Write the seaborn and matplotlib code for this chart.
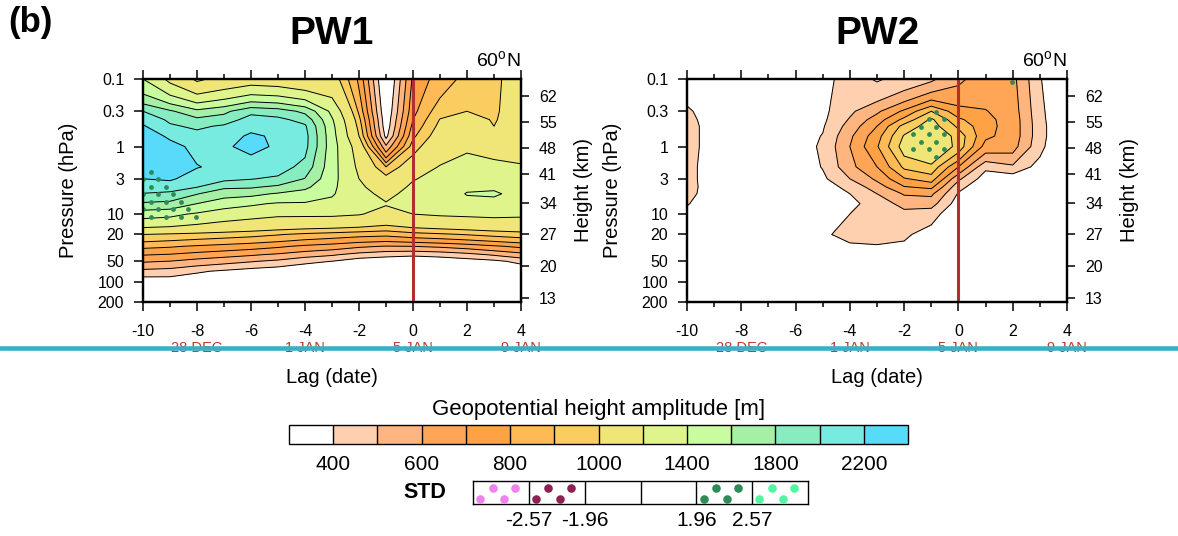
import matplotlib
matplotlib.use("Agg")
import matplotlib.pyplot as plt
import numpy as np
import seaborn as sns
from matplotlib.lines import Line2D
from matplotlib.ticker import FixedLocator, NullLocator

# ---------------- data ----------------
lags = [-10, -9, -8, -7, -6, -5, -4, -3, -2, -1, 0, 1, 2, 3, 4]
pressure = [0.1, 0.3, 0.4, 0.5, 0.7, 1, 2, 3, 4, 5, 7, 10, 20, 30, 40, 50, 70, 100, 150, 200]

# PW1 amplitude [m], one row per pressure level, columns = lags
pw1 = [
    [1400, 1150, 970, 1050, 1100, 1080, 1030, 1080, 780, 250, 720, 850, 930, 980, 1050],
    [2000, 1830, 1650, 1750, 1950, 1900, 1750, 1350, 880, 300, 770, 960, 1000, 985, 1060],
    [2150, 1960, 1850, 1900, 2080, 2050, 1930, 1420, 930, 320, 800, 1005, 1050, 990, 1070],
    [2220, 2030, 1960, 2030, 2150, 2120, 2030, 1450, 960, 330, 830, 1030, 1080, 1000, 1080],
    [2300, 2170, 2080, 2120, 2230, 2170, 2070, 1470, 1000, 370, 880, 1070, 1120, 1060, 1100],
    [2370, 2260, 2150, 2180, 2240, 2180, 2060, 1480, 1100, 520, 950, 1120, 1180, 1150, 1120],
    [2340, 2300, 2210, 2150, 2120, 2100, 1930, 1470, 1160, 900, 1100, 1210, 1260, 1240, 1220],
    [2200, 2230, 2100, 2050, 2010, 1960, 1790, 1460, 1200, 1050, 1190, 1250, 1300, 1320, 1290],
    [2110, 2080, 2000, 1830, 1820, 1750, 1640, 1440, 1230, 1110, 1230, 1270, 1370, 1380, 1330],
    [1990, 1960, 1810, 1680, 1650, 1580, 1520, 1420, 1250, 1160, 1250, 1290, 1410, 1420, 1350],
    [1770, 1740, 1600, 1480, 1430, 1380, 1380, 1350, 1260, 1210, 1250, 1290, 1340, 1350, 1330],
    [1480, 1450, 1370, 1300, 1260, 1230, 1230, 1230, 1210, 1150, 1200, 1220, 1230, 1240, 1230],
    [1000, 981, 965, 949, 932, 907, 878, 858, 837, 826, 861, 882, 906, 932, 955],
    [826, 811, 787, 766, 744, 716, 680, 654, 617, 594, 600, 618, 647, 685, 723],
    [705, 691, 661, 636, 611, 582, 540, 511, 462, 431, 415, 431, 464, 511, 559],
    [611, 597, 562, 535, 507, 477, 430, 398, 340, 330, 330, 335, 350, 374, 430],
    [471, 457, 415, 384, 352, 330, 300, 290, 260, 250, 250, 255, 265, 280, 310],
    [330, 340, 320, 300, 280, 260, 240, 220, 200, 190, 190, 195, 200, 210, 230],
    [200, 200, 190, 180, 170, 160, 150, 140, 130, 120, 120, 120, 125, 130, 140],
    [120, 120, 110, 110, 100, 100, 90, 80, 80, 70, 70, 70, 75, 80, 80],
]

# PW2 amplitude [m]
pw2 = [
    [340, 290, 270, 280, 320, 370, 440, 390, 430, 480, 580, 650, 630, 410, 250],
    [420, 330, 290, 300, 330, 375, 480, 580, 720, 900, 740, 705, 650, 430, 270],
    [440, 335, 300, 305, 335, 380, 510, 650, 830, 1020, 820, 725, 660, 435, 275],
    [450, 340, 300, 310, 340, 390, 540, 700, 940, 1050, 880, 730, 660, 440, 280],
    [450, 340, 300, 310, 345, 405, 580, 760, 1010, 1110, 960, 720, 660, 440, 280],
    [450, 340, 300, 310, 350, 415, 600, 790, 1050, 1140, 960, 660, 640, 430, 270],
    [440, 335, 290, 300, 340, 405, 570, 700, 920, 970, 700, 420, 480, 360, 240],
    [440, 335, 280, 290, 320, 380, 500, 620, 790, 850, 520, 350, 330, 300, 220],
    [445, 335, 270, 275, 305, 350, 430, 550, 690, 720, 430, 320, 300, 280, 210],
    [440, 330, 260, 265, 295, 330, 400, 500, 610, 620, 390, 300, 280, 260, 200],
    [410, 310, 250, 255, 285, 320, 370, 450, 530, 540, 350, 280, 260, 240, 190],
    [360, 280, 240, 250, 280, 330, 400, 430, 470, 440, 320, 260, 240, 220, 180],
    [280, 240, 220, 240, 290, 380, 440, 450, 420, 350, 280, 230, 220, 200, 170],
    [220, 200, 190, 200, 250, 330, 380, 390, 380, 300, 240, 200, 190, 170, 150],
    [180, 170, 160, 170, 200, 260, 300, 310, 320, 250, 200, 170, 160, 150, 130],
    [150, 140, 130, 140, 170, 210, 250, 260, 270, 210, 170, 150, 140, 130, 110],
    [120, 110, 100, 110, 130, 160, 200, 200, 210, 170, 140, 120, 110, 100, 90],
    [100, 90, 80, 80, 100, 120, 150, 150, 160, 130, 110, 100, 90, 80, 70],
    [80, 70, 60, 60, 70, 80, 100, 100, 110, 90, 80, 70, 70, 60, 50],
    [60, 50, 50, 50, 50, 60, 80, 80, 80, 60, 60, 50, 50, 50, 40],
]

# standardized anomaly (STD) on small sub-grids around the significant areas
std1_lags = [-10, -9, -8, -7]
std1_pres = [1, 2, 3, 4, 5, 7, 10, 20, 30]
std1 = [
    [1.0, 0.8, 0.5, 0.3],
    [1.9, 1.6, 0.8, 0.5],
    [2.3, 2.0, 1.2, 0.8],
    [2.3, 2.1, 1.5, 1.0],
    [2.3, 2.2, 1.75, 1.0],
    [2.2, 2.2, 1.9, 1.0],
    [2.2, 2.2, 2.15, 1.5],
    [1.0, 1.0, 1.2, 0.8],
    [0.5, 0.5, 0.5, 0.3],
]
std2_lags = [-3, -2, -1, 0, 1, 2, 3]
std2_pres = [0.1, 0.3, 0.4, 0.5, 0.7, 1, 2, 3]
std2 = [
    [0.5, 0.5, 1.0, 0.8, 1.0, 2.3, 1.0],
    [0.5, 1.0, 2.2, 1.2, 1.0, 1.0, 0.5],
    [0.5, 1.3, 2.4, 1.8, 0.5, 0.5, 0.5],
    [0.5, 1.8, 2.5, 1.7, 0.5, 0.5, 0.5],
    [0.5, 1.8, 2.5, 1.65, 0.5, 0.5, 0.5],
    [0.5, 2.0, 2.5, 1.75, 0.5, 0.5, 0.5],
    [0.5, 1.2, 1.7, 1.0, 0.5, 0.5, 0.5],
    [0.5, 0.8, 1.0, 0.5, 0.5, 0.5, 0.5],
]

levels = [400, 500, 600, 700, 800, 900, 1000, 1200, 1400, 1600, 1800, 2000, 2200]
fill_colors = ["#FFFFFF", "#FFD0B0", "#FFB580", "#FFA555", "#FFA245", "#FFB955", "#FACD60",
               "#F0E678", "#E0F48C", "#C9FC9E", "#A5F0A5", "#87EDC0", "#78EBE0", "#58DAFA"]
cbar_ticks = [400, 600, 800, 1000, 1400, 1800, 2200]

p_ticks = [0.1, 0.3, 1, 3, 10, 20, 50, 100, 200]
p_ticklabels = ["0.1", "0.3", "1", "3", "10", "20", "50", "100", "200"]
height_km = [13, 20, 27, 34, 41, 48, 55, 62]
height_p = [175, 58.9, 19.8, 6.87, 2.55, 1.05, 0.434, 0.179]

date_lags = [-8, -4, 0, 4]
date_labels = ["28 DEC", "1 JAN", "5 JAN", "9 JAN"]

std_labels = ["-2.57", "-1.96", "1.96", "2.57"]
std_colors = ["#EE82EE", "#8B2252", None, None, "#2E8B57", "#52F5A0"]
legend_dot_dx = [0.13, 0.35, 0.55, 0.75]
legend_dot_dy = [0.22, 0.70, 0.22, 0.70]

# stipple lattice (fill pattern), in lag units / decades of pressure
ROW0, ROW_STEP = -0.5156, 0.1111
COL0, COL_STEP = -9.99, 0.5556
SIG = 1.96

W, H = 1178, 536

sns.set_style("ticks")
plt.rcParams["font.family"] = ["Liberation Sans", "DejaVu Sans"]
plt.rcParams["axes.unicode_minus"] = False
plt.rcParams["mathtext.fontset"] = "custom"
plt.rcParams["mathtext.rm"] = "Liberation Sans"
for key in ["text.color", "axes.labelcolor", "xtick.color", "ytick.color", "axes.edgecolor"]:
    plt.rcParams[key] = "black"


def stipple(ax, s_lags, s_pres, s_std):
    s_std = np.array(s_std)
    logp = np.log10(s_pres)
    xs, ys = [], []
    for k in range(-6, 26):
        lp = ROW0 + ROW_STEP * k
        if lp < -1 or lp > np.log10(200):
            continue
        start = COL0 + (COL_STEP / 2 if k % 2 == 0 else 0)
        cols = np.arange(start, 4.0, COL_STEP)
        cols = cols[cols >= -10]
        row_vals = [np.interp(lp, logp, s_std[:, j], left=0, right=0) for j in range(len(s_lags))]
        vals = np.interp(cols, s_lags, row_vals, left=0, right=0)
        keep = vals >= SIG
        xs.extend(cols[keep])
        ys.extend([10 ** lp] * int(keep.sum()))
    sns.scatterplot(x=xs, y=ys, ax=ax, color="#2E8B57", s=12, linewidth=0,
                    legend=False, zorder=3)


fig = plt.figure(figsize=(W / 100, H / 100), dpi=100)

panels = [
    (pw1, std1_lags, std1_pres, std1, 143, 378, "PW1"),
    (pw2, std2_lags, std2_pres, std2, 687, 380, "PW2"),
]

cf = None
for data, s_lags, s_pres, s_std, x0, wpx, title in panels:
    ax = fig.add_axes([x0 / W, 1 - 302 / H, wpx / W, 223 / H])
    ax.set_yscale("log")
    z = np.array(data)
    cfill = ax.contourf(lags, pressure, z, levels=levels, colors=fill_colors, extend="both")
    if cf is None:
        cf = cfill
    ax.contour(lags, pressure, z, levels=levels, colors="black", linewidths=0.7)
    stipple(ax, s_lags, s_pres, s_std)
    ax.axvline(0, color="#B03030", linewidth=2.2, zorder=4)

    ax.set_xlim(-10, 4)
    ax.set_ylim(200, 0.1)
    ax.xaxis.set_major_locator(FixedLocator(list(range(-10, 5, 2))))
    ax.xaxis.set_minor_locator(FixedLocator(lags))
    ax.set_xticklabels([str(v) for v in range(-10, 5, 2)])
    ax.yaxis.set_major_locator(FixedLocator(p_ticks))
    ax.yaxis.set_minor_locator(NullLocator())
    ax.set_yticklabels(p_ticklabels)
    ax.tick_params(axis="x", which="both", direction="out", top=True, width=1.1)
    ax.tick_params(axis="x", which="major", length=6.5, labelsize=11.5, pad=9)
    ax.tick_params(axis="x", which="minor", length=3.5)
    ax.tick_params(axis="y", which="major", direction="out", length=6.5, width=1.1,
                   labelsize=11.5, pad=7)
    for sp in ax.spines.values():
        sp.set_linewidth(1.6)

    ax.set_xlabel("Lag (date)", fontsize=14.5)
    ax.xaxis.set_label_coords(0.5, -0.295)
    ax.set_ylabel("Pressure (hPa)", fontsize=14.5)
    ax.yaxis.set_label_coords(-65 / wpx, 0.5)

    for lg, txt in zip(date_lags, date_labels):
        ax.text(lg, -0.206, txt, transform=ax.get_xaxis_transform(), ha="center",
                va="center", color="#C0392B", fontsize=10.5)

    ax.text(1.0, 1.035, r"60$^{\mathrm{o}}$N", transform=ax.transAxes, ha="right",
            va="bottom", fontsize=14)

    ax2 = ax.twinx()
    ax2.set_yscale("log")
    ax2.set_ylim(200, 0.1)
    ax2.yaxis.set_major_locator(FixedLocator(height_p))
    ax2.yaxis.set_minor_locator(NullLocator())
    ax2.set_yticklabels([str(h) for h in height_km])
    ax2.tick_params(axis="y", direction="out", length=6, width=1.1, labelsize=11.5, pad=7)
    for sp in ax2.spines.values():
        sp.set_linewidth(1.6)
    ax2.set_ylabel("Height (km)", fontsize=14.5)
    ax2.yaxis.set_label_coords(1 + 53 / wpx, 0.5)

    fig.text((x0 + wpx / 2) / W, 1 - 34 / H, title, ha="center", va="center",
             fontsize=28, fontweight="bold")

fig.text(8 / W, 1 - 6 / H, "(b)", ha="left", va="top", fontsize=25, fontweight="bold")

# cyan separator across the figure
fig.add_artist(Line2D([0, 1], [1 - 348 / H, 1 - 348 / H], transform=fig.transFigure,
                      color="#3DAEC7", linewidth=3.3, zorder=10))

# colour bar
cax = fig.add_axes([289 / W, 1 - 444 / H, 619 / W, 19 / H])
cb = fig.colorbar(cf, cax=cax, orientation="horizontal", extendrect=True,
                  extendfrac=1 / 12, spacing="uniform", drawedges=True, ticks=cbar_ticks)
cb.ax.tick_params(length=0, labelsize=15, pad=8)
cb.outline.set_linewidth(1.0)
cb.outline.set_edgecolor("black")
cb.dividers.set_linewidth(1.0)
cb.dividers.set_color("black")
fig.text(598.5 / W, 1 - 409 / H, "Geopotential height amplitude [m]", ha="center",
         va="center", fontsize=16)

# STD legend
lax = fig.add_axes([473 / W, 1 - 504 / H, 335 / W, 23 / H])
for b in range(1, 6):
    lax.axvline(b, color="black", linewidth=1.0)
for cell, col in enumerate(std_colors):
    if col is None:
        continue
    sns.scatterplot(x=[cell + d for d in legend_dot_dx], y=legend_dot_dy, ax=lax,
                    color=col, s=38, linewidth=0, legend=False, zorder=3)
lax.set_xlim(0, 6)
lax.set_ylim(0, 1)
lax.set_xticks([1, 2, 4, 5])
lax.set_xticklabels(std_labels)
lax.set_yticks([])
lax.tick_params(axis="x", length=0, labelsize=15, pad=5)
for sp in lax.spines.values():
    sp.set_linewidth(1.0)
    sp.set_edgecolor("black")
lax.text(-0.143, 0.5, "STD", transform=lax.transAxes, ha="center", va="center",
         fontsize=15.5, fontweight="bold")

fig.savefig("out.png", dpi=100)
plt.close(fig)
